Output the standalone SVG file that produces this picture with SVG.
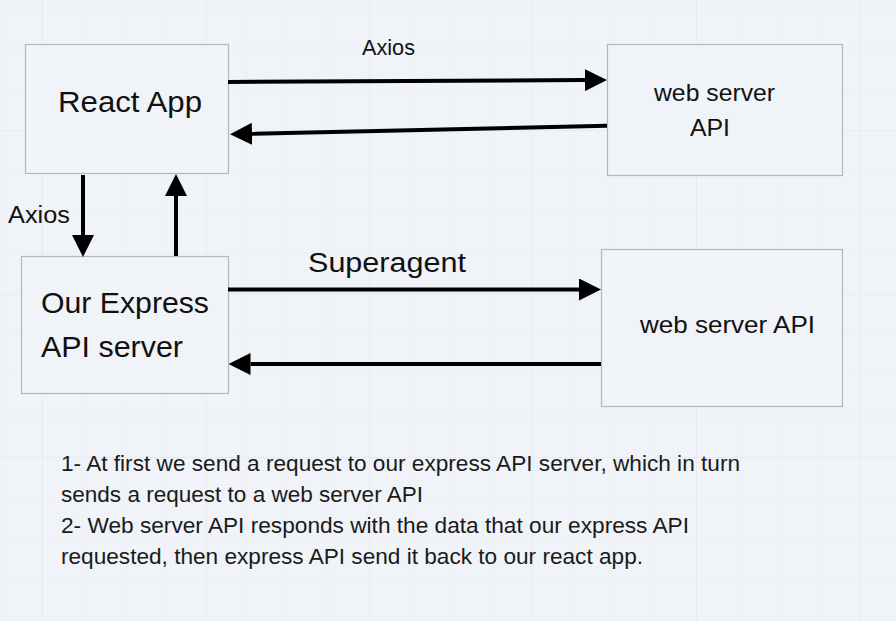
<svg xmlns="http://www.w3.org/2000/svg" width="896" height="621" viewBox="0 0 896 621">
  <defs>
    <style>
      .box { fill: #f0f3f7; stroke: #b4b7bb; stroke-width: 1.2; }
      .lbl { font-family: "Liberation Sans", Arial, sans-serif; fill: #111111; }
      .conn { stroke: #000000; stroke-width: 4; fill: none; }
      .note { font-family: "Liberation Sans", Arial, sans-serif; font-size: 22px; fill: #1a1a1a; }
    </style>
    <marker id="arrow" markerUnits="userSpaceOnUse" markerWidth="22" markerHeight="22" refX="0" refY="11" orient="auto">
      <path d="M0,0 L22,11 L0,22 Z" fill="#000000"/>
    </marker>
    <pattern id="grid" patternUnits="userSpaceOnUse" x="42" y="130" width="163.5" height="163.5">
      <path d="M40.875,0 V163.5 M81.75,0 V163.5 M122.625,0 V163.5 M0,40.875 H163.5 M0,81.75 H163.5 M0,122.625 H163.5" stroke="#edf0f4" stroke-width="1" fill="none"/>
      <path d="M0.5,0 V163.5 M0,0.5 H163.5" stroke="#e7eaee" stroke-width="1" fill="none"/>
    </pattern>
  </defs>
  <rect x="0" y="0" width="896" height="621" fill="#f0f3f7"/>
  <rect x="0" y="0" width="896" height="621" fill="url(#grid)"/>

  <g id="react-app">
    <rect class="box" x="25.5" y="44.5" width="203" height="129"/>
    <text class="lbl" x="58" y="112" font-size="30" textLength="144" lengthAdjust="spacingAndGlyphs">React App</text>
  </g>

  <g id="web-server-api-top">
    <rect class="box" x="607.5" y="44.5" width="235" height="131"/>
    <text class="lbl" x="654" y="101" font-size="24" textLength="121" lengthAdjust="spacingAndGlyphs">web server</text>
    <text class="lbl" x="690" y="136" font-size="24" textLength="40" lengthAdjust="spacingAndGlyphs">API</text>
  </g>

  <g id="express-api-server">
    <rect class="box" x="21.5" y="256.5" width="207" height="137"/>
    <text class="lbl" x="41" y="313" font-size="29" textLength="168" lengthAdjust="spacingAndGlyphs">Our Express</text>
    <text class="lbl" x="41" y="357" font-size="29" textLength="142" lengthAdjust="spacingAndGlyphs">API server</text>
  </g>

  <g id="web-server-api-bottom">
    <rect class="box" x="601.5" y="249.5" width="241" height="157"/>
    <text class="lbl" x="640" y="333" font-size="24" textLength="175" lengthAdjust="spacingAndGlyphs">web server API</text>
  </g>

  <g id="connectors">
    <line class="conn" x1="228" y1="82" x2="585" y2="80.1" marker-end="url(#arrow)"/>
    <line class="conn" x1="607" y1="125.8" x2="252" y2="133.8" marker-end="url(#arrow)"/>
    <line class="conn" x1="83" y1="175" x2="83" y2="235" marker-end="url(#arrow)"/>
    <line class="conn" x1="176" y1="256" x2="176" y2="196" marker-end="url(#arrow)"/>
    <line class="conn" x1="228" y1="289.5" x2="579" y2="289.5" marker-end="url(#arrow)"/>
    <line class="conn" x1="601" y1="364" x2="250.5" y2="364" marker-end="url(#arrow)"/>
    <text class="lbl" x="362" y="55" font-size="22" textLength="53" lengthAdjust="spacingAndGlyphs">Axios</text>
    <text class="lbl" x="8" y="223" font-size="23" textLength="62" lengthAdjust="spacingAndGlyphs">Axios</text>
    <text class="lbl" x="308" y="272" font-size="27" textLength="158" lengthAdjust="spacingAndGlyphs">Superagent</text>
  </g>

  <g id="notes">
    <text class="note" x="61" y="471" textLength="679" lengthAdjust="spacingAndGlyphs">1- At first we send a request to our express API server, which in turn</text>
    <text class="note" x="61" y="502" textLength="362" lengthAdjust="spacingAndGlyphs">sends a request to a web server API</text>
    <text class="note" x="61" y="533" textLength="628" lengthAdjust="spacingAndGlyphs">2- Web server API responds with the data that our express API</text>
    <text class="note" x="61" y="564" textLength="582" lengthAdjust="spacingAndGlyphs">requested, then express API send it back to our react app.</text>
  </g>
</svg>
